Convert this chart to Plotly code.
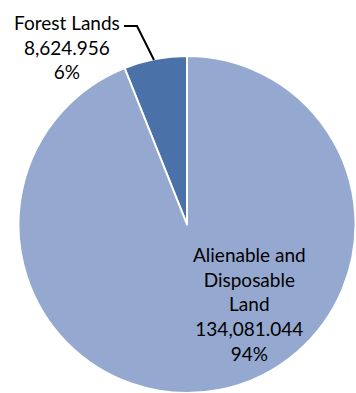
import plotly.graph_objects as go

labels = ["Forest Lands", "Alienable and<br>Disposable<br>Land"]
values = [8624.956, 134081.044]
colors = ["#4A72A8", "#95A9D0"]

W, H = 356, 393
total = sum(values)
texts = [f"{l}<br>{v:,.3f}<br>{round(100 * v / total):.0f}%" for l, v in zip(labels, values)]

fig = go.Figure(go.Pie(
    labels=labels,
    values=values,
    sort=False,
    direction="clockwise",
    rotation=-(360 * values[0] / total),
    textinfo="none",
    hoverinfo="none",
    marker=dict(colors=colors, line=dict(color="white", width=2)),
    domain=dict(x=[18 / W, 1.0], y=[0.0, 1 - 56 / H]),
    showlegend=False,
))

font = dict(family="Lato", size=19, color="black")
# label positions (px from top-left)
label_pos = [(66.5, 47), (249, 304)]
for t, (px, py) in zip(texts, label_pos):
    fig.add_annotation(x=px / W, y=1 - py / H, xref="paper", yref="paper",
                       text=t, showarrow=False, font=font,
                       xanchor="center", yanchor="middle", align="center")

# leader line for Forest Lands label
pts = [(124, 26), (137, 26), (154, 60)]
path = "M " + " L ".join(f"{x / W},{1 - y / H}" for x, y in pts)
fig.add_shape(type="path", path=path, xref="paper", yref="paper",
              line=dict(color="black", width=2))

fig.update_layout(width=W, height=H, margin=dict(l=0, r=0, t=0, b=0),
                  paper_bgcolor="white", plot_bgcolor="white")
fig.write_html("out.html")
